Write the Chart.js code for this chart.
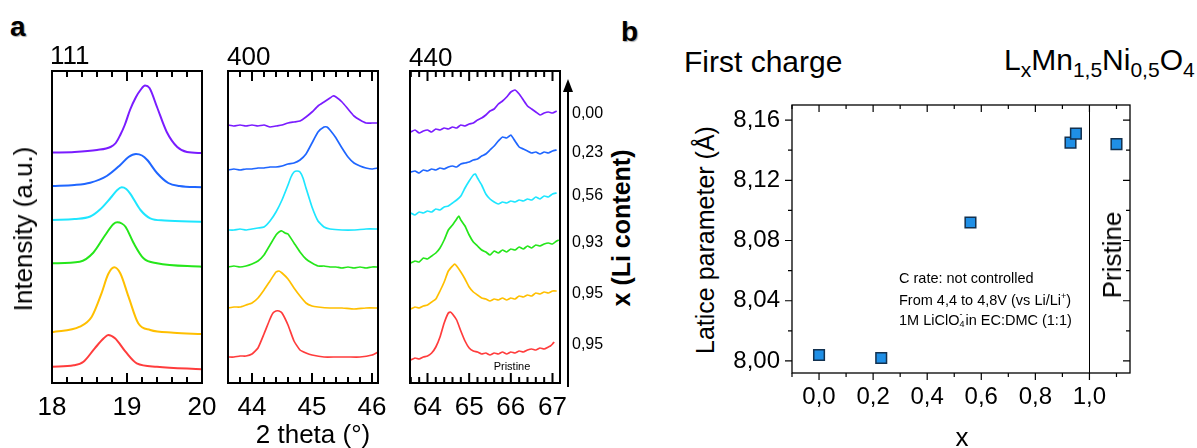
<!DOCTYPE html>
<html><head><meta charset="utf-8">
<script src="https://cdn.jsdelivr.net/npm/chart.js@4.4.1/dist/chart.umd.min.js"></script>
<style>
html,body{margin:0;padding:0;background:#fff;}
#wrap{position:relative;width:1197px;height:448px;overflow:hidden;font-family:"Liberation Sans",Arial,sans-serif;color:#000;}
canvas{position:absolute;}
.t{position:absolute;white-space:nowrap;line-height:1;}
.rot{transform:translate(-50%,-50%) rotate(-90deg);}
.sb{font-size:21px;vertical-align:-7px;}
</style></head><body><div id="wrap">
<canvas id="c111" width="190" height="362" style="left:32px;top:66px"></canvas>
<canvas id="c400" width="190" height="362" style="left:208px;top:66px"></canvas>
<canvas id="c440" width="190" height="362" style="left:390px;top:66px"></canvas>
<canvas id="cB" width="417" height="327" style="left:722px;top:96px"></canvas>

<div class="t" style="left:10px;top:13px;font-size:28px;font-weight:bold;text-shadow:1px 1px 1px rgba(0,0,0,.35)">a</div>
<div class="t" style="left:621px;top:18px;font-size:28px;font-weight:bold;text-shadow:1px 1px 1px rgba(0,0,0,.35)">b</div>
<div class="t" style="left:50px;top:42px;font-size:26px">111</div>
<div class="t" style="left:227px;top:43px;font-size:26px">400</div>
<div class="t" style="left:409px;top:44px;font-size:26px">440</div>
<div class="t rot" style="left:23px;top:229px;font-size:26px">Intensity (a.u.)</div>
<div class="t" style="left:313px;top:421px;font-size:26px;transform:translateX(-50%)">2 theta (°)</div>
<div class="t rot" style="left:621px;top:228px;font-size:25px;font-weight:bold">x (Li content)</div>
<div class="t" style="left:512px;top:366px;font-size:11px;transform:translate(-50%,-50%)">Pristine</div>
<svg style="position:absolute;left:560px;top:76px" width="16" height="316"><line x1="8" y1="14" x2="8" y2="311" stroke="#000" stroke-width="2"/><polygon points="8,3 3,16 13,16" fill="#000"/></svg>
<div id="liBox"></div>

<div class="t" style="left:684px;top:47px;font-size:30px">First charge</div>
<div class="t" style="left:1004px;top:45px;font-size:30px">L<span class="sb">x</span>Mn<span class="sb">1,5</span>Ni<span class="sb">0,5</span>O<span class="sb">4</span></div>
<div class="t rot" style="left:705px;top:240px;font-size:25px">Latice parameter (Å)</div>
<div class="t" style="left:962px;top:437px;font-size:26px;transform:translate(-50%,-50%)">x</div>
<div class="t rot" style="left:1112px;top:255px;font-size:26px">Pristine</div>
<div class="t" style="left:899px;top:271px;font-size:14.5px">C rate: not controlled</div>
<div class="t" style="left:899px;top:292px;font-size:14.5px">From 4,4 to 4,8V (vs Li/Li<span style="font-size:9px;vertical-align:6px">+</span>)</div>
<div class="t" style="left:899px;top:313px;font-size:14.5px">1M LiClO<span style="display:inline-block;position:relative;width:6px;height:10px"><span style="position:absolute;left:0;top:-5px;font-size:9px">-</span><span style="position:absolute;left:0;top:5px;font-size:9px">4</span></span>in EC:DMC (1:1)</div>
</div>
<script>
const FONT = '"Liberation Sans", Arial, sans-serif';
const colors = ['#7a1cff','#1f66ff','#1ee6ff','#25e61a','#ffbf00','#ff3c3c'];
const liLabels = ['0,00','0,23','0,56','0,93','0,95','0,95'];

// tick labels
const ticks111 = [18,19,20];
const ticks400 = [44,45,46];
const ticks440 = [64,65,66,67];
const ticksBx = [0,0.2,0.4,0.6,0.8,1.0];
const ticksBy = [8.00,8.04,8.08,8.12,8.16];

// (111) reflection, intensity offsets in a.u.
const r111_000 = [[18,230.5],[18.3,231],[18.6,233],[18.78,236],[18.85,240],[18.91,248],[18.97,258],[19.04,273],[19.12,286],[19.18,293],[19.24,297.5],[19.3,295],[19.4,276],[19.53,251],[19.67,236],[19.8,231],[20,230]];
const r111_023 = [[18,197],[18.3,198],[18.51,200.3],[18.73,207],[18.91,218],[19.02,226],[19.12,229],[19.2,227.5],[19.27,223],[19.4,210],[19.55,200],[19.7,197],[20,195.7]];
const r111_056 = [[18,163],[18.3,164],[18.51,166.5],[18.64,173.5],[18.78,185],[18.87,193],[18.93,195.7],[18.99,194],[19.04,189.7],[19.18,173],[19.31,164.7],[19.5,162.5],[20,161.3]];
const r111_093 = [[18,119.7],[18.37,121.3],[18.55,130.3],[18.71,148],[18.82,159],[18.87,160.7],[18.93,159.5],[18.98,156.3],[19.09,139.7],[19.22,124.7],[19.4,119.7],[20,116.3]];
const r111_095 = [[18,50.7],[18.37,56.3],[18.53,66.3],[18.66,89.7],[18.75,109],[18.83,115.7],[18.91,109.7],[19.02,86.3],[19.15,59.7],[19.31,53],[19.62,50.3],[20,49]];
const r111_pri = [[18,16.3],[18.29,17.7],[18.42,21.3],[18.57,34.7],[18.69,44.7],[18.75,48],[18.84,44.7],[18.98,31.3],[19.13,19.7],[19.4,16.3],[20,13.7]];

// (400) reflection
const r400_000 = [[43.6,258],[43.7,257],[43.8,258],[43.9,257],[44.0,258],[44.1,257],[44.2,258],[44.3,256],[44.4,257],[44.5,258],[44.6,260],[44.7,261],[44.8,262],[44.9,266],[45.0,271],[45.1,277],[45.2,281],[45.3,285],[45.35,287],[45.4,286],[45.5,281],[45.6,274],[45.7,267],[45.8,263],[45.9,260],[46.0,260],[46.1,260]];
const r400_023 = [[43.6,213],[43.7,214],[43.8,213],[43.9,214],[44.0,214],[44.1,215],[44.2,215],[44.3,216],[44.4,216],[44.5,217],[44.6,219],[44.7,220],[44.8,223],[44.9,229],[45.0,240],[45.1,251],[45.2,256],[45.25,256],[45.3,253],[45.4,245],[45.5,235],[45.6,226],[45.7,220],[45.8,217],[45.9,215],[46.0,214],[46.1,215]];
const r400_056 = [[43.6,153],[43.7,153],[43.8,154],[43.9,153],[44.0,154],[44.1,155],[44.2,156],[44.3,162],[44.4,171],[44.5,183],[44.6,198],[44.65,206],[44.7,211],[44.75,212],[44.8,211],[44.85,205],[44.9,195],[45.0,176],[45.1,162],[45.2,156],[45.3,154],[45.5,153],[45.7,153],[45.9,154],[46.1,154]];
const r400_093 = [[43.6,116],[43.7,117],[43.8,116],[43.9,117],[44.0,119],[44.1,122],[44.2,128],[44.3,138],[44.4,148],[44.45,151],[44.5,152],[44.55,150],[44.6,149],[44.7,140],[44.8,131],[44.9,124],[45.0,120],[45.1,117],[45.2,117],[45.3,116],[45.4,116],[45.5,115],[45.6,116],[45.7,115],[45.8,116],[45.9,115],[46.0,116],[46.1,116]];
const r400_095 = [[43.6,75],[43.7,76],[43.8,76],[43.9,78],[44.0,80],[44.1,85],[44.2,93],[44.3,102],[44.4,111],[44.45,112],[44.5,110],[44.6,104],[44.7,95],[44.8,87],[44.9,80],[45.0,77],[45.1,76],[45.3,75],[45.5,75],[45.7,74],[45.9,75],[46.1,75]];
const r400_pri = [[43.6,26],[43.7,26],[43.8,27],[43.9,27],[44.0,29],[44.1,35],[44.2,49],[44.3,64],[44.35,70],[44.4,72],[44.45,72],[44.5,70],[44.6,58],[44.7,42],[44.8,33],[44.9,30],[45.0,28],[45.2,26],[45.4,26],[45.6,26],[45.8,26],[46.0,28],[46.1,31]];

// (440) reflection
const r440_000 = [[63.6,251],[63.7,253],[63.8,250],[63.9,252],[64.0,253],[64.1,251],[64.2,254],[64.3,253],[64.4,255],[64.5,254],[64.6,256],[64.7,255],[64.8,258],[64.9,257],[65.0,259],[65.1,260],[65.2,263],[65.3,265],[65.4,268],[65.5,272],[65.6,274],[65.7,279],[65.8,282],[65.9,286],[66.0,291],[66.1,293],[66.2,289],[66.3,283],[66.4,277],[66.5,274],[66.6,271],[66.7,268],[66.8,270],[66.9,271],[67.0,270],[67.1,272]];
const r440_023 = [[63.6,211],[63.7,212],[63.8,210],[63.9,213],[64.0,212],[64.1,214],[64.2,213],[64.3,215],[64.4,214],[64.5,216],[64.6,217],[64.7,216],[64.8,219],[64.9,220],[65.0,221],[65.1,223],[65.2,224],[65.3,227],[65.4,229],[65.5,233],[65.6,237],[65.7,242],[65.8,246],[65.9,245],[66.0,248],[66.1,242],[66.2,236],[66.3,234],[66.4,232],[66.5,230],[66.6,231],[66.7,229],[66.8,231],[66.9,230],[67.0,232],[67.1,233]];
const r440_056 = [[63.6,170],[63.7,168],[63.8,171],[63.9,170],[64.0,172],[64.1,171],[64.2,174],[64.3,173],[64.4,176],[64.5,177],[64.6,180],[64.7,183],[64.8,187],[64.9,195],[65.0,202],[65.1,208],[65.15,209],[65.2,205],[65.3,198],[65.4,189],[65.5,184],[65.6,181],[65.7,179],[65.8,181],[65.9,180],[66.0,182],[66.1,181],[66.2,183],[66.3,182],[66.4,184],[66.5,183],[66.6,186],[66.7,184],[66.8,187],[66.9,186],[67.0,189],[67.1,190]];
const r440_093 = [[63.6,120],[63.7,122],[63.8,121],[63.9,125],[64.0,124],[64.1,127],[64.2,130],[64.3,135],[64.4,143],[64.5,153],[64.6,158],[64.7,164],[64.75,167],[64.8,163],[64.9,157],[65.0,148],[65.1,141],[65.2,137],[65.3,133],[65.4,131],[65.5,128],[65.6,132],[65.7,130],[65.8,133],[65.9,131],[66.0,134],[66.1,133],[66.2,136],[66.3,134],[66.4,137],[66.5,135],[66.6,138],[66.7,137],[66.8,139],[66.9,140],[67.0,139],[67.1,142],[67.15,143]];
const r440_095 = [[63.6,74],[63.7,76],[63.8,75],[63.9,77],[64.0,78],[64.1,81],[64.2,84],[64.3,92],[64.4,101],[64.5,112],[64.6,117],[64.65,119],[64.7,117],[64.8,111],[64.9,104],[65.0,96],[65.1,91],[65.2,88],[65.3,85],[65.4,84],[65.5,82],[65.6,84],[65.7,83],[65.8,85],[65.9,83],[66.0,85],[66.1,84],[66.2,87],[66.3,86],[66.4,88],[66.5,87],[66.6,90],[66.7,89],[66.8,91],[66.9,90],[67.0,92],[67.1,92]];
const r440_pri = [[63.6,23],[63.7,25],[63.8,24],[63.9,26],[64.0,27],[64.1,30],[64.2,36],[64.3,46],[64.4,60],[64.5,70],[64.55,71],[64.6,69],[64.7,63],[64.8,52],[64.9,42],[65.0,35],[65.1,32],[65.2,31],[65.3,29],[65.4,30],[65.5,28],[65.6,30],[65.7,29],[65.8,31],[65.9,29],[66.0,31],[66.1,30],[66.2,32],[66.3,31],[66.4,33],[66.5,34],[66.6,33],[66.7,35],[66.8,34],[66.9,36],[66.95,37],[67.0,39],[67.04,41]];

// panel b: lattice parameter vs x
const xContent = [0.00,0.23,0.56,0.93,0.95];
const latticeCharge = [8.004,8.002,8.092,8.145,8.151];
const xPristine = [1.10];
const latticePristine = [8.144];
const pristineSplit = 1.0;

function makeFramePlugin(o) {
  const gen = (majors, step, min, max) => {
    const out=[]; let k=Math.ceil((min-majors[0])/step-1e-9);
    for(;;k++){const v=majors[0]+k*step; if(v>max+1e-6) break; out.push(v);} return out;
  };
  const isMaj = (majors,v,step)=>majors.some(m=>Math.abs(m-v)<step*0.01);
  return {
    id:'frameTicks',
    afterDraw(chart){
      const ctx = chart.ctx, a = chart.chartArea;
      const xs = chart.scales.x, ys = chart.scales.y;
      ctx.save();
      ctx.strokeStyle = '#000';
      ctx.lineCap = 'butt';
      if (o.vlines) {
        ctx.lineWidth = o.vlineWidth || 1;
        o.vlines.forEach(v=>{const px=Math.round(xs.getPixelForValue(v))+0.5; ctx.beginPath(); ctx.moveTo(px,a.top); ctx.lineTo(px,a.bottom); ctx.stroke();});
      }
      ctx.lineWidth = o.tickWidth;
      if (o.x) {
        gen(o.x.majors, o.x.step, xs.min, xs.max).forEach(v=>{
          const px = xs.getPixelForValue(v); const len = isMaj(o.x.majors,v,o.x.step)?o.majorLen:o.minorLen;
          ctx.beginPath();
          if (o.x.bottom) { const d=o.x.bottom==='out'?1:-1; ctx.moveTo(px,a.bottom); ctx.lineTo(px,a.bottom+d*len); }
          if (o.x.top) { const d=o.x.top==='out'?-1:1; ctx.moveTo(px,a.top); ctx.lineTo(px,a.top+d*len); }
          ctx.stroke();
        });
      }
      if (o.y) {
        gen(o.y.majors, o.y.step, ys.min, ys.max).forEach(v=>{
          const py = ys.getPixelForValue(v); const len = isMaj(o.y.majors,v,o.y.step)?o.majorLen:o.minorLen;
          ctx.beginPath();
          if (o.y.left) { const d=o.y.left==='out'?-1:1; ctx.moveTo(a.left,py); ctx.lineTo(a.left+d*len,py); }
          if (o.y.right) { const d=o.y.right==='out'?1:-1; ctx.moveTo(a.right,py); ctx.lineTo(a.right+d*len,py); }
          ctx.stroke();
        });
      }
      ctx.lineWidth = o.frameWidth;
      ctx.strokeRect(a.left,a.top,a.right-a.left,a.bottom-a.top);
      ctx.restore();
    }
  };
}

function xrdChart(id, curves, xmin, xmax, majors, smooth) {
  return new Chart(document.getElementById(id), {
    type:'line',
    data:{datasets: curves.map((c,i)=>({
      data:c.map(p=>({x:p[0],y:p[1]})), borderColor:colors[i], borderWidth:smooth?2:1.7,
      pointRadius:0, fill:false, tension: smooth?0.4:0.15, cubicInterpolationMode: smooth?'monotone':'default'
    }))},
    options:{
      responsive:false, animation:false, devicePixelRatio:1,
      layout:{padding:{left:20,right:20,top:5,bottom:0}},
      plugins:{legend:{display:false}, tooltip:{enabled:false}},
      scales:{
        x:{type:'linear', min:xmin, max:xmax,
          afterBuildTicks:s=>{s.ticks=majors.map(v=>({value:v}));},
          afterFit:s=>{s.height=45; s.paddingLeft=0; s.paddingRight=0;},
          grid:{display:false, drawTicks:false}, border:{display:false},
          ticks:{font:{family:FONT,size:26}, color:'#000', padding:9, maxRotation:0, autoSkip:false, callback:v=>String(v)}},
        y:{type:'linear', display:false, min:0, max:312}
      }
    },
    plugins:[makeFramePlugin({frameWidth:2, tickWidth:2, majorLen:10, minorLen:6, x:{majors:majors, step:0.2, bottom:'in', top:'in'}})]
  });
}

xrdChart('c111', [r111_000,r111_023,r111_056,r111_093,r111_095,r111_pri], 18, 20, ticks111, true);
xrdChart('c400', [r400_000,r400_023,r400_056,r400_093,r400_095,r400_pri], 43.6, 46.1, ticks400, false);
const c440 = [r440_000,r440_023,r440_056,r440_093,r440_095,r440_pri];
const ch440 = xrdChart('c440', c440, 63.58, 67.18, ticks440, false);

// x (Li content) labels next to the 440 curves
const ys3 = ch440.scales.y;
const box = document.getElementById('liBox');
liLabels.forEach((t,i)=>{
  const d = c440[i]; const last = d[d.length-1][1];
  const py = 66 + ys3.getPixelForValue(last) + 2;
  const el = document.createElement('div'); el.className='t';
  el.style.left='572px'; el.style.top=(py-8)+'px'; el.style.fontSize='16px'; el.textContent=t;
  box.appendChild(el);
});

const ptStyle = {pointStyle:'rect', pointRadius:7.5, backgroundColor:'#1f8fe6', borderColor:'#13314f', borderWidth:1.5};
new Chart(document.getElementById('cB'), {
  type:'scatter',
  data:{datasets:[
    Object.assign({data:xContent.map((x,i)=>({x, y:latticeCharge[i]}))}, ptStyle),
    Object.assign({data:xPristine.map((x,i)=>({x, y:latticePristine[i]}))}, ptStyle)
  ]},
  options:{
    responsive:false, animation:false, devicePixelRatio:1,
    layout:{padding:{left:0,right:6,top:6,bottom:0}},
    plugins:{legend:{display:false}, tooltip:{enabled:false}},
    scales:{
      x:{type:'linear', min:-0.1, max:1.15,
        afterBuildTicks:s=>{s.ticks=ticksBx.map(v=>({value:v}));},
        afterFit:s=>{s.height=50; s.paddingLeft=0; s.paddingRight=0;},
        grid:{display:false, drawTicks:false}, border:{display:false},
        ticks:{font:{family:FONT,size:24}, color:'#000', padding:10, maxRotation:0, autoSkip:false, callback:v=>v.toFixed(1).replace('.',',')}},
      y:{type:'linear', min:7.992, max:8.17,
        afterBuildTicks:s=>{s.ticks=ticksBy.map(v=>({value:v}));},
        afterFit:s=>{s.width=70; s.paddingTop=0; s.paddingBottom=0;},
        grid:{display:false, drawTicks:false}, border:{display:false},
        ticks:{font:{family:FONT,size:24}, color:'#000', padding:12, autoSkip:false, callback:v=>v.toFixed(2).replace('.',',')}}
    }
  },
  plugins:[makeFramePlugin({frameWidth:1.3, tickWidth:1.2, majorLen:7, minorLen:4, vlines:[pristineSplit], vlineWidth:1,
    x:{majors:ticksBx, step:0.1, bottom:'out', top:'in'},
    y:{majors:ticksBy, step:0.02, left:'out', right:'in'}})]
});
</script>
</body></html>
